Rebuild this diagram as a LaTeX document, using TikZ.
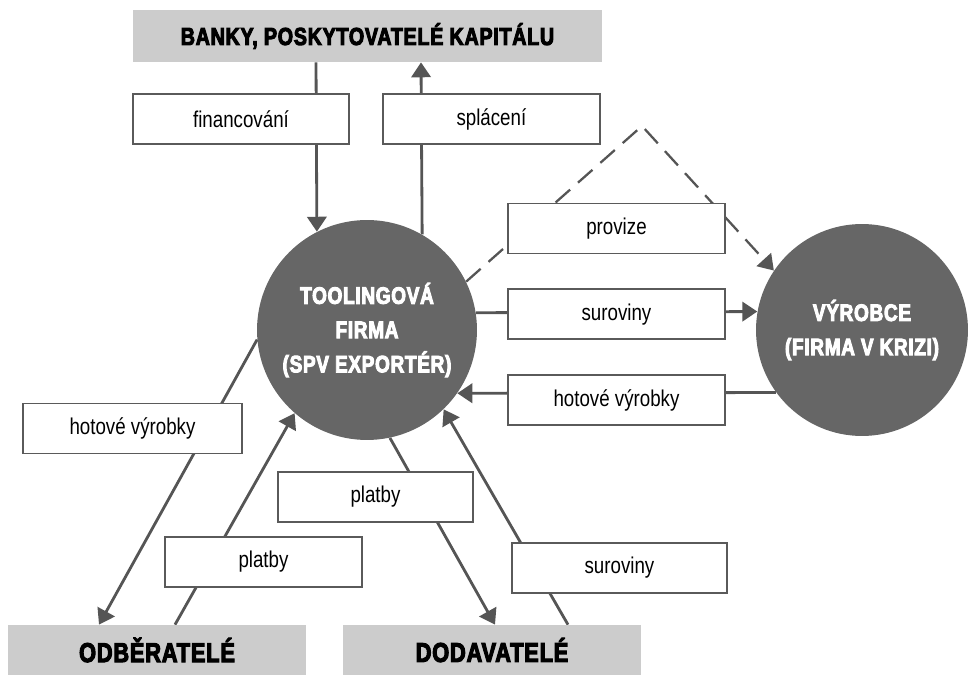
\documentclass[tikz,border=0pt]{standalone}
\usepackage{fontspec}
\setmainfont{Liberation Sans}
\newfontfamily\labelfont[FakeStretch=0.82]{Liberation Sans}
\newfontfamily\headfont[FakeStretch=0.8,FakeBold=4,LetterSpace=3]{Liberation Sans}
\usepackage{tikz}
\usetikzlibrary{positioning, calc, shapes, arrows.meta, backgrounds}
\definecolor{linegray}{HTML}{555555}
\definecolor{boxgray}{HTML}{5A5A5A}
\definecolor{circgray}{HTML}{666666}
\definecolor{bannergray}{HTML}{CCCCCC}

\begin{document}
\begin{tikzpicture}[x=0.02cm, y=-0.02cm, node distance=0.68cm,
	>={Triangle[length=8.5pt,width=11pt]},
	flowbox/.style = {draw=boxgray, line width=1.1pt, fill=white, minimum width=4.34cm, minimum height=1cm, inner sep=0pt, font=\labelfont\fontsize{13}{15}\selectfont},
	banner/.style = {fill=bannergray, minimum height=1cm, inner sep=0pt, font=\headfont\bfseries\fontsize{15.5}{17}\selectfont},
	firm/.style = {circle, fill=circgray, inner sep=0pt, align=center, text=white, font=\headfont\bfseries\fontsize{13.5}{19.5}\selectfont},
	flow/.style = {draw=linegray, line width=1.6pt}]
	\useasboundingbox (0,0) rectangle (968,675);
	\node[banner, minimum width=9.38cm, minimum height=1.04cm, font=\headfont\bfseries\fontsize{14}{16}\selectfont] (banka) at (367.5,36) {BANKY, POSKYTOVATELÉ KAPITÁLU};
	\node[banner, minimum width=5.96cm] (odb) at (157,650) {ODBĚRATELÉ};
	\node[banner, minimum width=5.96cm] (dod) at (492,650) {DODAVATELÉ};
	\node[firm, minimum size=4.4cm] (tool) at (367,330) {TOOLINGOVÁ\\FIRMA\\(SPV EXPORTÉR)};
	\node[firm, minimum size=4.24cm] (vyr) at (862,330) {VÝROBCE\\(FIRMA V KRIZI)};
	\node[flowbox, minimum width=4.32cm] (fin) at (241,119) {financování};
	\node[flowbox, right=0.64cm of fin] (spl) {splácení};
	\node[flowbox] (prov) at (616.5,228.5) {provize};
	\node[flowbox, below=of prov] (sur) {suroviny};
	\node[flowbox, below=of sur] (hotR) {hotové výrobky};
	\node[flowbox, minimum width=4.38cm] (hotL) at (132.5,428.5) {hotové výrobky};
	\node[flowbox, minimum width=3.94cm] (platL) at (263.5,562) {platby};
	\node[flowbox, minimum width=3.9cm] (platM) at (375.5,497) {platby};
	\node[flowbox, minimum width=4.3cm] (surB) at (619.5,568) {suroviny};
	\coordinate (finx) at (316,0);
	\coordinate (splx) at (421,0);
	\coordinate (hotx) at (99,0);
	\coordinate (platx) at (175,0);
	\coordinate (paymx) at (495,0);
	\coordinate (surx) at (568,0);
	\coordinate (peak) at (642,126);
	\begin{pgfonlayer}{background}
		\draw[flow, ->] (banka.south -| finx) -- (tool.117.6);
		\draw[flow, ->] (tool.60.6) -- (banka.south -| splx);
		\draw[flow, ->] (tool.9.4) -- (vyr.170.2);
		\draw[flow, ->] (vyr.216.5) -- (tool.325.1);
		\draw[flow, line width=1.3pt, dash pattern=on 11pt off 6pt, ->] (tool.26) -- (peak) -- (vyr.146);
		\draw[flow, ->] (tool.185) -- (odb.north -| hotx);
		\draw[flow, ->] (odb.north -| platx) -- (tool.229.5);
		\draw[flow, ->] (tool.282) -- (dod.north -| paymx);
		\draw[flow, ->] (dod.north -| surx) -- (tool.314.3);
	\end{pgfonlayer}
\end{tikzpicture}
\end{document}
